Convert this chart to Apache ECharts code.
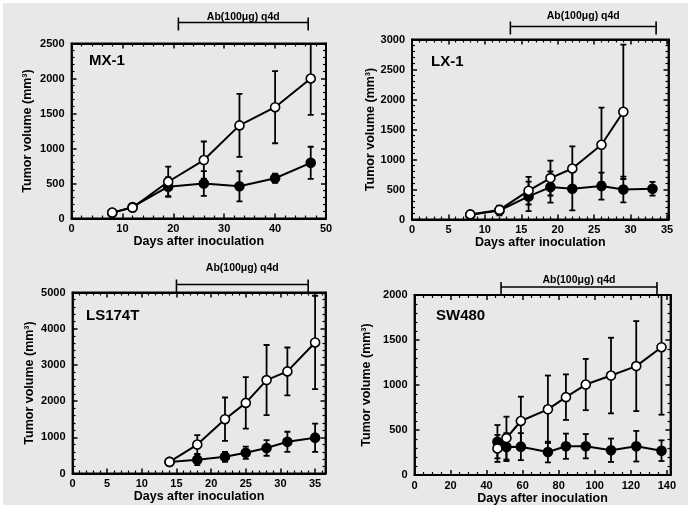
<!DOCTYPE html>
<html>
<head>
<meta charset="utf-8">
<script src="https://cdn.jsdelivr.net/npm/echarts@6/dist/echarts.min.js"></script>
<style>
  html, body { margin: 0; padding: 0; background: #ffffff; }
  #wrap { position: relative; width: 693px; height: 512px; overflow: hidden; }
  #paper { position: absolute; left: 3px; top: 3px; width: 685px; height: 502px; background: #e8e8ea; }
  #chart { position: absolute; left: 0; top: 0; width: 693px; height: 512px; }
</style>
</head>
<body>
<div id="wrap"><div id="paper"></div><div id="chart"></div></div>
<script>
// Xenograft tumour growth: untreated (open circles) vs. antibody-treated (filled circles)

const panelNames = ['MX-1', 'LX-1', 'LS174T', 'SW480'];

// axis ranges and tick spacing per panel
const xAxisMax = [50, 35.2, 36.5, 142];
const xTickStep = [10, 5, 5, 20];
const xMinorSplits = [5, 5, 5, 4];
const yAxisMax = [2500, 3000, 5000, 2000];
const yTickStep = [500, 500, 1000, 500];
const yMinorSplits = [5, 5, 5, 5];

// antibody dosing window (days)
const treatStart = [21, 13.5, 15, 48];
const treatEnd = [46.5, 33.5, 34, 134.5];
const treatLabel = 'Ab(100μg) q4d';

// MX-1
const mx1ControlDays = [8, 12, 19, 26, 33, 40, 47];
const mx1ControlMean = [85, 155, 525, 835, 1330, 1590, 2000];
const mx1ControlSd = [20, 30, 215, 265, 450, 515, 520];
const mx1TreatedDays = [8, 12, 19, 26, 33, 40, 47];
const mx1TreatedMean = [80, 165, 455, 500, 460, 575, 795];
const mx1TreatedSd = [15, 30, 135, 178, 215, 65, 230];

// LX-1
const lx1ControlDays = [8, 12, 16, 19, 22, 26, 29];
const lx1ControlMean = [85, 160, 480, 690, 850, 1245, 1795];
const lx1ControlSd = [20, 60, 230, 290, 370, 620, 1120];
const lx1TreatedDays = [8, 12, 16, 19, 22, 26, 29, 33];
const lx1TreatedMean = [80, 150, 385, 540, 513, 557, 500, 513];
const lx1TreatedSd = [15, 80, 245, 260, 360, 225, 215, 115];

// LS174T
const ls174tControlDays = [14, 18, 22, 25, 28, 31, 35];
const ls174tControlMean = [320, 800, 1500, 1950, 2580, 2820, 3620];
const ls174tControlSd = [90, 260, 600, 710, 970, 660, 1290];
const ls174tTreatedDays = [14, 18, 22, 25, 28, 31, 35];
const ls174tTreatedMean = [320, 380, 460, 575, 705, 875, 990];
const ls174tTreatedSd = [60, 150, 140, 170, 215, 278, 390];

// SW480
const sw480ControlDays = [46, 51, 59, 74, 84, 95, 109, 123, 137];
const sw480ControlMean = [295, 410, 600, 730, 865, 1005, 1105, 1210, 1420];
const sw480ControlSd = [150, 238, 270, 375, 253, 285, 420, 500, 750];
const sw480TreatedDays = [46, 51, 59, 74, 84, 95, 109, 123, 137];
const sw480TreatedMean = [370, 310, 315, 255, 320, 320, 275, 320, 270];
const sw480TreatedSd = [185, 155, 150, 115, 140, 135, 130, 170, 115];

const groups = [
  [[mx1ControlDays, mx1ControlMean, mx1ControlSd], [mx1TreatedDays, mx1TreatedMean, mx1TreatedSd]],
  [[lx1ControlDays, lx1ControlMean, lx1ControlSd], [lx1TreatedDays, lx1TreatedMean, lx1TreatedSd]],
  [[ls174tControlDays, ls174tControlMean, ls174tControlSd], [ls174tTreatedDays, ls174tTreatedMean, ls174tTreatedSd]],
  [[sw480ControlDays, sw480ControlMean, sw480ControlSd], [sw480TreatedDays, sw480TreatedMean, sw480TreatedSd]]
];

// layout (pixels)
const boxes = [
  { left: 71.5, top: 43.5, width: 254.5, height: 175 },
  { left: 412, top: 39.5, width: 256.5, height: 180 },
  { left: 72.5, top: 292.5, width: 253, height: 181 },
  { left: 414.5, top: 295, width: 256, height: 180 }
];
const yNameGap = [37, 34.5, 36, 41];
const xNameGap = [15.5, 14.5, 16, 13.5];
const bracketRise = [21, 13, 8, 8];
const bracketTextRise = [5.5, 10, 16.5, 6.5];
const labelPos = [[89, 53], [431, 54], [86, 308], [436, 308]];

const FONT = '"Liberation Sans", Arial, Helvetica, sans-serif';
const INK = '#000000';

function onStep(v, step) {
  const r = v / step;
  return Math.abs(r - Math.round(r)) < 1e-6;
}

function tickAxisCommon(splits) {
  return {
    axisLine: { show: true, onZero: false, lineStyle: { color: INK, width: 1.8 } },
    axisTick: { show: true, inside: true, length: 5, lineStyle: { color: INK, width: 1.5 } },
    minorTick: { show: true, splitNumber: splits, length: 3, lineStyle: { color: INK, width: 1.2 } },
    splitLine: { show: false },
    minorSplitLine: { show: false }
  };
}

function errorBarRender(params, api) {
  const x = api.value(0), m = api.value(1), s = api.value(2);
  const hi = api.coord([x, m + s]);
  const lo = api.coord([x, m - s]);
  const w = 3;
  const st = { stroke: INK, lineWidth: 1.8, fill: null };
  return {
    type: 'group',
    children: [
      { type: 'line', shape: { x1: hi[0], y1: hi[1], x2: lo[0], y2: lo[1] }, style: st },
      { type: 'line', shape: { x1: hi[0] - w, y1: hi[1], x2: hi[0] + w, y2: hi[1] }, style: st },
      { type: 'line', shape: { x1: lo[0] - w, y1: lo[1], x2: lo[0] + w, y2: lo[1] }, style: st }
    ]
  };
}

function bracketRender(panel) {
  return function (params, api) {
    const a = api.coord([api.value(0), 0]);
    const b = api.coord([api.value(1), 0]);
    const y = params.coordSys.y - bracketRise[panel];
    const st = { stroke: INK, lineWidth: 1.6, fill: null };
    return {
      type: 'group',
      children: [
        { type: 'line', shape: { x1: a[0], y1: y, x2: b[0], y2: y }, style: st },
        { type: 'line', shape: { x1: a[0], y1: y - 5, x2: a[0], y2: y + 8 }, style: st },
        { type: 'line', shape: { x1: b[0], y1: y - 5, x2: b[0], y2: y + 8 }, style: st },
        {
          type: 'text',
          style: {
            text: treatLabel,
            x: (a[0] + b[0]) / 2,
            y: y - bracketTextRise[panel],
            align: 'center',
            verticalAlign: 'middle',
            fill: INK,
            font: 'bold 10.5px ' + FONT
          }
        }
      ]
    };
  };
}

const grid = [], xAxis = [], yAxis = [], series = [], title = [];

for (let i = 0; i < 4; i++) {
  // framed plot box
  grid.push(Object.assign({
    containLabel: false, show: true, backgroundColor: 'transparent',
    borderColor: INK, borderWidth: 1.8
  }, boxes[i]));

  xAxis.push(Object.assign({
    type: 'value', gridIndex: i, position: 'bottom',
    min: 0, max: xAxisMax[i], interval: xTickStep[i],
    name: 'Days after inoculation', nameLocation: 'middle', nameGap: xNameGap[i],
    nameTextStyle: { fontFamily: FONT, fontWeight: 'bold', fontSize: 12.5, color: INK },
    axisLabel: {
      margin: 5, fontFamily: FONT, fontWeight: 'bold', fontSize: 11, color: INK,
      formatter: (v) => onStep(v, xTickStep[i]) ? String(v) : ''
    }
  }, tickAxisCommon(xMinorSplits[i])));
  xAxis.push(Object.assign({
    type: 'value', gridIndex: i, position: 'top',
    min: 0, max: xAxisMax[i], interval: xTickStep[i],
    axisLabel: { show: false }
  }, tickAxisCommon(xMinorSplits[i])));

  yAxis.push(Object.assign({
    type: 'value', gridIndex: i, position: 'left',
    min: 0, max: yAxisMax[i], interval: yTickStep[i],
    name: 'Tumor volume (mm³)', nameLocation: 'middle', nameGap: yNameGap[i],
    nameTextStyle: { fontFamily: FONT, fontWeight: 'bold', fontSize: 12.5, color: INK },
    axisLabel: {
      margin: 7, fontFamily: FONT, fontWeight: 'bold', fontSize: 11, color: INK,
      formatter: (v) => onStep(v, yTickStep[i]) ? String(v) : ''
    }
  }, tickAxisCommon(yMinorSplits[i])));
  yAxis.push(Object.assign({
    type: 'value', gridIndex: i, position: 'right',
    min: 0, max: yAxisMax[i], interval: yTickStep[i],
    axisLabel: { show: false }
  }, tickAxisCommon(yMinorSplits[i])));

  title.push({
    text: panelNames[i], left: labelPos[i][0], top: labelPos[i][1], padding: 0,
    textStyle: { fontFamily: FONT, fontWeight: 'bold', fontSize: 15, color: INK }
  });

  const xi = 2 * i, yi = 2 * i;
  const [control, treated] = groups[i];

  // error bars (beneath the markers)
  [treated, control].forEach((g) => {
    series.push({
      type: 'custom', xAxisIndex: xi, yAxisIndex: yi, clip: true, silent: true, z: 2,
      encode: { x: 0, y: 1 },
      renderItem: errorBarRender,
      data: g[0].map((d, k) => [d, g[1][k], g[2][k]])
    });
  });

  // treated: filled circles
  series.push({
    type: 'line', xAxisIndex: xi, yAxisIndex: yi, silent: true, z: 3,
    symbol: 'circle', symbolSize: 9,
    lineStyle: { color: INK, width: 2 },
    itemStyle: { color: INK, borderColor: INK, borderWidth: 1.6 },
    emphasis: { disabled: true },
    data: treated[0].map((d, k) => [d, treated[1][k]])
  });
  // untreated: open circles
  series.push({
    type: 'line', xAxisIndex: xi, yAxisIndex: yi, silent: true, z: 4,
    symbol: 'circle', symbolSize: 9,
    lineStyle: { color: INK, width: 2 },
    itemStyle: { color: '#ffffff', borderColor: INK, borderWidth: 1.6 },
    emphasis: { disabled: true },
    data: control[0].map((d, k) => [d, control[1][k]])
  });

  // dosing bracket above the plot
  series.push({
    type: 'custom', xAxisIndex: xi + 1, yAxisIndex: yi, clip: false, silent: true, z: 5,
    encode: { x: [0, 1] },
    renderItem: bracketRender(i),
    data: [[treatStart[i], treatEnd[i]]]
  });
}

const chart = echarts.init(document.getElementById('chart'), null, { renderer: 'canvas' });
chart.setOption({
  backgroundColor: 'transparent',
  animation: false,
  title, grid, xAxis, yAxis, series
});
</script>
</body>
</html>
